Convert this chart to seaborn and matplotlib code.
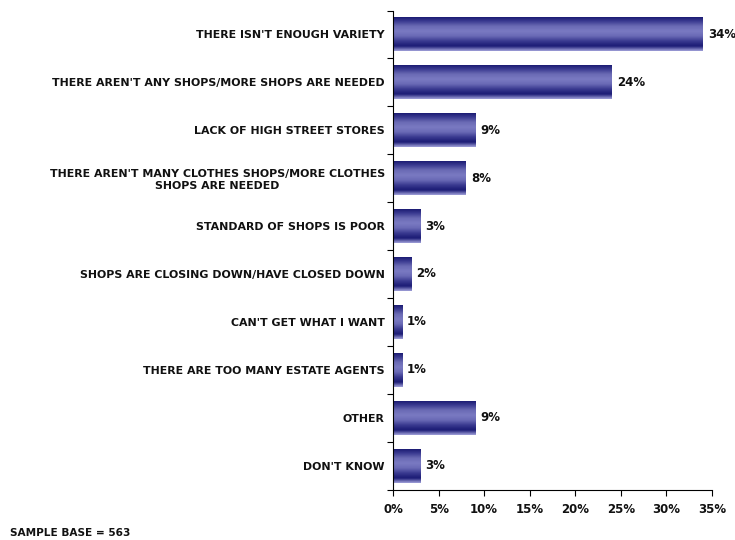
import numpy as np
import pandas as pd
import matplotlib
matplotlib.use("Agg")
import matplotlib.pyplot as plt
from matplotlib.colors import LinearSegmentedColormap
from matplotlib.ticker import FixedLocator, PercentFormatter
import seaborn as sns

categories = [
    "THERE ISN'T ENOUGH VARIETY",
    "THERE AREN'T ANY SHOPS/MORE SHOPS ARE NEEDED",
    "LACK OF HIGH STREET STORES",
    "THERE AREN'T MANY CLOTHES SHOPS/MORE CLOTHES\nSHOPS ARE NEEDED",
    "STANDARD OF SHOPS IS POOR",
    "SHOPS ARE CLOSING DOWN/HAVE CLOSED DOWN",
    "CAN'T GET WHAT I WANT",
    "THERE ARE TOO MANY ESTATE AGENTS",
    "OTHER",
    "DON'T KNOW",
]
values = [34, 24, 9, 8, 3, 2, 1, 1, 9, 3]
x_ticks = [0, 5, 10, 15, 20, 25, 30, 35]
sample_base = 563

df = pd.DataFrame({"reason": categories, "pct": values})

sns.set_theme(style="white")
plt.rcParams["font.family"] = ["DejaVu Sans"]

fig = plt.figure(figsize=(7.35, 5.4), dpi=100)
ax = fig.add_axes([0.5347, 0.0935, 0.4340, 0.8870])

sns.barplot(data=df, x="pct", y="reason", orient="h", width=0.71,
            color="#3a3a8c", edgecolor="none", ax=ax)

# cylinder-style shading across each bar's height
shade = LinearSegmentedColormap.from_list(
    "tube", ["#a4a4dc", "#1a1a74", "#3a3a90", "#6a6ab6", "#7a7ac2",
             "#6a6ab4", "#3a3a90", "#14146c"])
grad = np.linspace(0, 1, 256).reshape(-1, 1)
for patch in ax.patches:
    x0, y0 = patch.get_x(), patch.get_y()
    w, h = patch.get_width(), patch.get_height()
    im = ax.imshow(grad, cmap=shade, aspect="auto",
                   extent=(x0, x0 + w, y0 + h, y0), origin="lower",
                   interpolation="bicubic", zorder=patch.get_zorder() + 0.1)
    im.set_clip_path(patch)

for i, v in enumerate(values):
    ax.text(v + 0.55, i, f"{v}%", va="center", ha="left",
            fontsize=8.5, fontweight="bold", color="#111111")

ax.set_xlim(0, 35)
ax.set_ylim(len(categories) - 0.5, -0.5)
ax.xaxis.set_major_locator(FixedLocator(x_ticks))
ax.xaxis.set_major_formatter(PercentFormatter(decimals=0))
ax.set_xlabel("")
ax.set_ylabel("")

ax.yaxis.set_minor_locator(FixedLocator(np.arange(-0.5, len(categories), 1.0)))
ax.tick_params(axis="y", which="major", length=0, pad=6)
ax.tick_params(axis="y", which="minor", length=4, width=0.8, color="black", direction="out", left=True)
ax.tick_params(axis="x", which="major", length=4, width=0.8, color="black", direction="out",
               bottom=True, pad=6)
for lbl in ax.get_yticklabels():
    lbl.set_fontsize(7.9)
    lbl.set_fontweight("bold")
    lbl.set_multialignment("center")
    lbl.set_color("#111111")
for lbl in ax.get_xticklabels():
    lbl.set_fontsize(8.5)
    lbl.set_fontweight("bold")
    lbl.set_color("#111111")

for side in ["top", "right"]:
    ax.spines[side].set_visible(False)
for side in ["left", "bottom"]:
    ax.spines[side].set_color("black")
    ax.spines[side].set_linewidth(0.8)

fig.text(0.0136, 0.004, f"SAMPLE BASE = {sample_base}", fontsize=7.6,
         fontweight="bold", color="#111111", ha="left", va="bottom")

fig.savefig("out.png", dpi=100, facecolor="white")
